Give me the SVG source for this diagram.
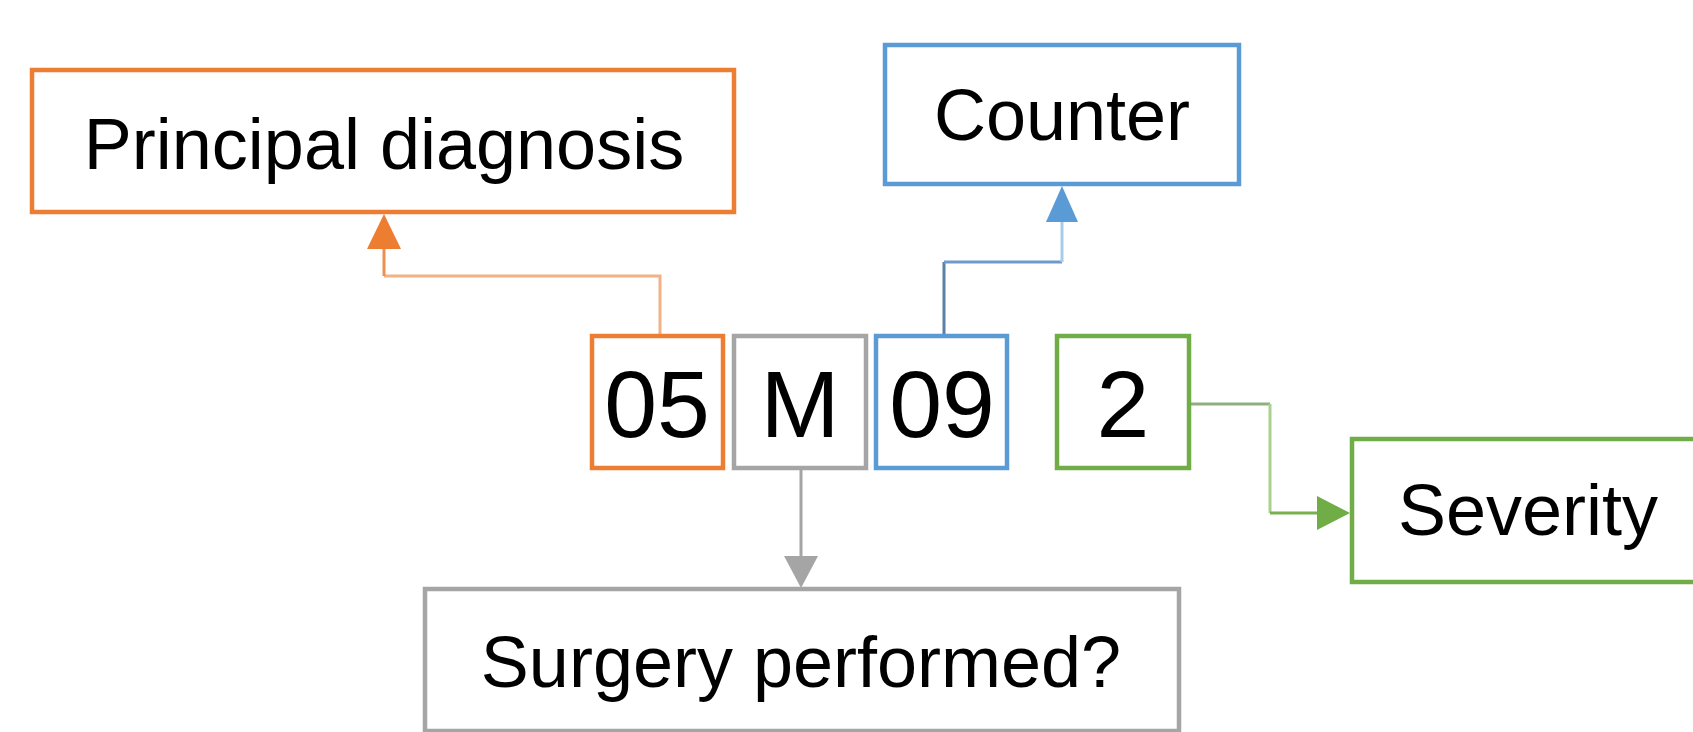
<svg xmlns="http://www.w3.org/2000/svg" width="1693" height="732" viewBox="0 0 1693 732">
<style>
.box{fill:#fff;stroke-width:4.5}
.t{font-family:"Liberation Sans",Arial,sans-serif;fill:#000;text-anchor:middle}
.lbl{font-size:72px}
.code{font-size:95px}
.c{fill:none;stroke-width:3}
</style>
<rect width="1693" height="732" fill="#fff"/>
<g id="connectors">
  <path class="c" d="M660 334 V276 H384" stroke="#F4B183"/>
  <path class="c" d="M384 276 V248" stroke="#EE8E50"/>
  <polygon points="384,214 367,249 401,249" fill="#ED7D31"/>
  <path class="c" d="M944 334 V262" stroke="#5A7FA8"/>
  <path class="c" d="M944 262 H1062" stroke="#6E9BCB"/>
  <path class="c" d="M1062 262 V221" stroke="#A9CBEA"/>
  <polygon points="1062,186 1046,222 1078,222" fill="#5B9BD5"/>
  <path class="c" d="M801 470 V557" stroke="#A5A5A5"/>
  <polygon points="801,588 784,556 818,556" fill="#A5A5A5"/>
  <path class="c" d="M1191 404 H1270" stroke="#8FAF80"/>
  <path class="c" d="M1270 404 V513" stroke="#A9D18E"/>
  <path class="c" d="M1270 513 H1318" stroke="#78B050"/>
  <polygon points="1350,513 1317,496 1317,530" fill="#70AD47"/>
</g>
<g id="principal">
  <rect class="box" x="32" y="70" width="702" height="142" stroke="#ED7D31"/>
  <text class="t lbl" x="384" y="169">Principal diagnosis</text>
</g>
<g id="counter">
  <rect class="box" x="885" y="45" width="354" height="139" stroke="#5B9BD5"/>
  <text class="t lbl" x="1062" y="140">Counter</text>
</g>
<g id="code05">
  <rect class="box" x="592" y="336" width="131" height="132" stroke="#ED7D31"/>
  <text class="t code" x="657" y="437">05</text>
</g>
<g id="codeM">
  <rect class="box" x="734" y="336" width="132" height="132" stroke="#A5A5A5"/>
  <text class="t code" x="800" y="437">M</text>
</g>
<g id="code09">
  <rect class="box" x="876" y="336" width="131" height="132" stroke="#5B9BD5"/>
  <text class="t code" x="942" y="437">09</text>
</g>
<g id="code2">
  <rect class="box" x="1057" y="336" width="132" height="132" stroke="#70AD47"/>
  <text class="t code" x="1123" y="437">2</text>
</g>
<g id="severity">
  <rect class="box" x="1352" y="439" width="360" height="143" stroke="#70AD47"/>
  <text class="t lbl" x="1528" y="535">Severity</text>
</g>
<g id="surgery">
  <rect class="box" x="425" y="589" width="754" height="142" stroke="#A5A5A5"/>
  <text class="t lbl" x="801" y="687">Surgery performed?</text>
</g>
</svg>
